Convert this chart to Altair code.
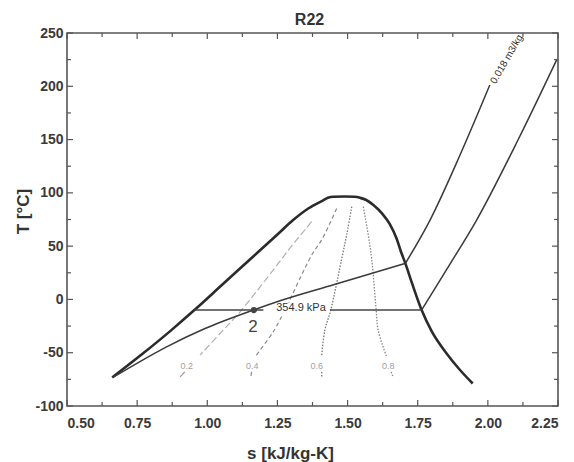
import altair as alt
import pandas as pd

# ---------------- data ----------------
s_ticks_major = [0.5, 0.75, 1.0, 1.25, 1.5, 1.75, 2.0, 2.25]
s_ticks_minor = [0.625, 0.875, 1.125, 1.375, 1.625, 1.875, 2.125]
T_ticks_major = [-100, -50, 0, 50, 100, 150, 200, 250]
T_ticks_minor = [-75, -25, 25, 75, 125, 175, 225]

chart_title = ["R22"]

# saturation dome (liquid line -> critical point -> vapour line)
dome_s = [0.661, 0.767, 0.872, 0.954, 1.05, 1.15, 1.25, 1.306, 1.36, 1.413,
          1.43, 1.45, 1.49, 1.525, 1.545, 1.565, 1.592, 1.625, 1.651, 1.675,
          1.69, 1.706, 1.73, 1.764, 1.80, 1.853, 1.90, 1.946]
dome_T = [-73.2, -51.5, -28.8, -10.0, 13.0, 37.0, 61.0, 74.5, 85.3, 93.0,
          95.4, 96.4, 96.6, 96.3, 95.3, 93.5, 88.5, 80.0, 70.5, 57.0,
          45.0, 33.8, 15.0, -10.0, -30.0, -50.7, -66.0, -78.9]

# isobar 354.9 kPa (split where the label sits)
p_left_s = [0.954, 1.20]
p_left_T = [-10.0, -10.0]
p_mid_s = [1.437, 1.764]
p_mid_T = [-10.0, -10.0]
p_sup_s = [1.764, 1.86, 1.96, 2.11, 2.245]
p_sup_T = [-10.0, 31.0, 74.5, 151.0, 224.7]

# isochore 0.018 m3/kg (two-phase part, superheated part)
v_wet_s = [0.665, 0.76, 0.855, 0.992, 1.164, 1.262, 1.45, 1.706]
v_wet_T = [-73.0, -58.3, -44.5, -27.3, -10.0, -1.0, 13.8, 33.8]
v_sup_s = [1.706, 1.794, 1.90, 2.007]
v_sup_T = [33.8, 74.5, 135.0, 201.2]

# constant-quality lines (pieces broken by labels)
x02_s = [1.372, 1.30, 1.271, 1.117, 1.051, 0.974]
x02_T = [72.9, 50.0, 40.0, -11.6, -30.4, -52.3]
x02_low_s = [0.92, 0.903]
x02_low_T = [-68.0, -72.7]

x04_s = [1.461, 1.41, 1.372, 1.29]
x04_T = [85.4, 57.0, 41.6, -3.0]
x04_mid_s = [1.265, 1.235, 1.17]
x04_mid_T = [-16.0, -30.4, -53.9]
x04_low_s = [1.158, 1.155]
x04_low_T = [-68.0, -72.7]

x06_s = [1.515, 1.50, 1.479, 1.44, 1.419, 1.408]
x06_T = [87.0, 65.0, 38.0, -10.0, -28.8, -52.3]
x06_low_s = [1.408, 1.408]
x06_low_T = [-68.0, -73.0]

x08_s = [1.556, 1.574, 1.586, 1.602, 1.609, 1.639]
x08_T = [87.0, 60.0, 38.0, -10.0, -28.8, -53.9]
x08_low_s = [1.655, 1.663]
x08_low_T = [-68.0, -73.0]

q_labels = ["0.2", "0.4", "0.6", "0.8"]
q_label_s = [0.927, 1.16, 1.39, 1.645]
q_label_T = [-62.0, -62.0, -62.0, -62.0]

state_s = [1.166]
state_T = [-10.0]
state_label = ["2"]
state_label_s = [1.163]
state_label_T = [-26.0]

p_label = ["354.9 kPa"]
p_label_s = [1.334]
p_label_T = [-7.7]

v_label = ["0.018 m3/kg"]
v_label_s = [2.018]
v_label_T = [203.0]

# ---------------- chart ----------------
W, H = 491, 373
FONT = "Liberation Sans"

xscale = alt.Scale(domain=[0.5, 2.25], nice=False, zero=False)
yscale = alt.Scale(domain=[-100, 250], nice=False, zero=False)


def xenc(axis=None):
    if axis is None:
        return alt.X("s:Q", scale=xscale)
    return alt.X("s:Q", scale=xscale, axis=axis)


def yenc(axis=None):
    if axis is None:
        return alt.Y("T:Q", scale=yscale)
    return alt.Y("T:Q", scale=yscale, axis=axis)


def line(s, T, color, width, dash=None, interp="linear", axes=False):
    df = pd.DataFrame({"s": s, "T": T, "i": list(range(len(s)))})
    kw = dict(color=color, strokeWidth=width, clip=True, interpolate=interp)
    if dash is not None:
        kw["strokeDash"] = dash
    if axes:
        xa = alt.Axis(values=s_ticks_major, format=".2f", ticks=False, domain=False,
                      grid=False, labelPadding=10, title="s [kJ/kg-K]",
                      titleX=223, titleY=52, titleBaseline="alphabetic",
                      titleAlign="center", titleAnchor=None)
        ya = alt.Axis(values=T_ticks_major, labelExpr="datum.value + ''", ticks=False,
                      domain=False, grid=False, labelPadding=4, title="T [°C]",
                      titleX=-39, titleY=178, titleAngle=270, titleAlign="center",
                      titleBaseline="alphabetic")
        return alt.Chart(df).mark_line(**kw).encode(x=xenc(xa), y=yenc(ya), order="i:Q")
    return alt.Chart(df).mark_line(**kw).encode(x=xenc(), y=yenc(), order="i:Q")


TICK = "#555"
layers = []
# saturation dome first: it carries the axes
layers.append(line(dome_s, dome_T, "#2b2b2b", 2.6, interp="monotone", axes=True))

# tick marks pointing inward on all four sides
for vals, ln in ((s_ticks_major, 6), (s_ticks_minor, 4)):
    d = pd.DataFrame({"s": vals})
    layers.append(alt.Chart(d).mark_rule(color=TICK, strokeWidth=1.2).encode(
        x=xenc(), y=alt.value(H), y2=alt.value(H - ln)))
    layers.append(alt.Chart(d).mark_rule(color=TICK, strokeWidth=1.2).encode(
        x=xenc(), y=alt.value(0), y2=alt.value(ln)))
for vals, ln in ((T_ticks_major, 6), (T_ticks_minor, 4)):
    d = pd.DataFrame({"T": vals})
    layers.append(alt.Chart(d).mark_rule(color=TICK, strokeWidth=1.2).encode(
        y=yenc(), x=alt.value(0), x2=alt.value(ln)))
    layers.append(alt.Chart(d).mark_rule(color=TICK, strokeWidth=1.2).encode(
        y=yenc(), x=alt.value(W), x2=alt.value(W - ln)))

# quality lines
CR = "catmull-rom"
layers.append(line(x02_s, x02_T, "#b0b0b0", 1.2, [7, 3], CR))
layers.append(line(x02_low_s, x02_low_T, "#999999", 1.2, [7, 3]))
layers.append(line(x04_s, x04_T, "#8a8a8a", 1.2, [4, 3], CR))
layers.append(line(x04_mid_s, x04_mid_T, "#8a8a8a", 1.2, [4, 3], CR))
layers.append(line(x04_low_s, x04_low_T, "#8a8a8a", 1.2, [4, 3]))
layers.append(line(x06_s, x06_T, "#777777", 1.3, [1.5, 1.5], CR))
layers.append(line(x06_low_s, x06_low_T, "#777777", 1.3, [1.5, 1.5]))
layers.append(line(x08_s, x08_T, "#888888", 1.3, [1.5, 1.5], CR))
layers.append(line(x08_low_s, x08_low_T, "#888888", 1.3, [1.5, 1.5]))

# isobar and isochore
layers.append(line(p_left_s, p_left_T, "#444444", 1.5))
layers.append(line(p_mid_s, p_mid_T, "#444444", 1.5))
layers.append(line(p_sup_s, p_sup_T, "#3a3a3a", 1.5, interp="monotone"))
layers.append(line(v_wet_s, v_wet_T, "#3a3a3a", 1.5, interp="monotone"))
layers.append(line(v_sup_s, v_sup_T, "#3a3a3a", 1.5, interp="monotone"))

# state point 2
layers.append(alt.Chart(pd.DataFrame({"s": state_s, "T": state_T})).mark_point(
    filled=True, color="#444444", size=38, opacity=1).encode(x=xenc(), y=yenc()))
layers.append(alt.Chart(pd.DataFrame({"s": state_label_s, "T": state_label_T,
                                      "t": state_label})).mark_text(
    font=FONT, fontSize=17, color="#444444", baseline="middle").encode(
    x=xenc(), y=yenc(), text="t:N"))

# labels
layers.append(alt.Chart(pd.DataFrame({"s": q_label_s, "T": q_label_T, "t": q_labels})).mark_text(
    font=FONT, fontSize=9, color="#a0a0a0", baseline="middle").encode(
    x=xenc(), y=yenc(), text="t:N"))
layers.append(alt.Chart(pd.DataFrame({"s": p_label_s, "T": p_label_T, "t": p_label})).mark_text(
    font=FONT, fontSize=11, color="#333333", baseline="middle").encode(
    x=xenc(), y=yenc(), text="t:N"))
layers.append(alt.Chart(pd.DataFrame({"s": v_label_s, "T": v_label_T, "t": v_label})).mark_text(
    font=FONT, fontSize=10, color="#333333", baseline="middle", align="left",
    angle=300).encode(x=xenc(), y=yenc(), text="t:N"))

# chart title as a text mark above the plot
layers.append(alt.Chart(pd.DataFrame({"t": chart_title})).mark_text(
    font=FONT, fontSize=16, fontWeight="bold", color="#333333",
    baseline="alphabetic", align="center").encode(
    x=alt.value(W / 2 - 3), y=alt.value(-8), text="t:N"))

chart = alt.layer(*layers).properties(
    width=W, height=H,
    padding={"left": 67, "top": 33, "right": 16, "bottom": 56},
    autosize=alt.AutoSizeParams(type="none"),
    background="white",
).configure_view(stroke="#555555", strokeWidth=1.6).configure_axis(
    labelFont=FONT, labelFontSize=14, labelFontWeight="bold", labelColor="#3a3a3a",
    titleFont=FONT, titleFontSize=17, titleFontWeight="bold", titleColor="#333333",
)

chart.save("out.html", embed_options={"renderer": "svg", "actions": False})
